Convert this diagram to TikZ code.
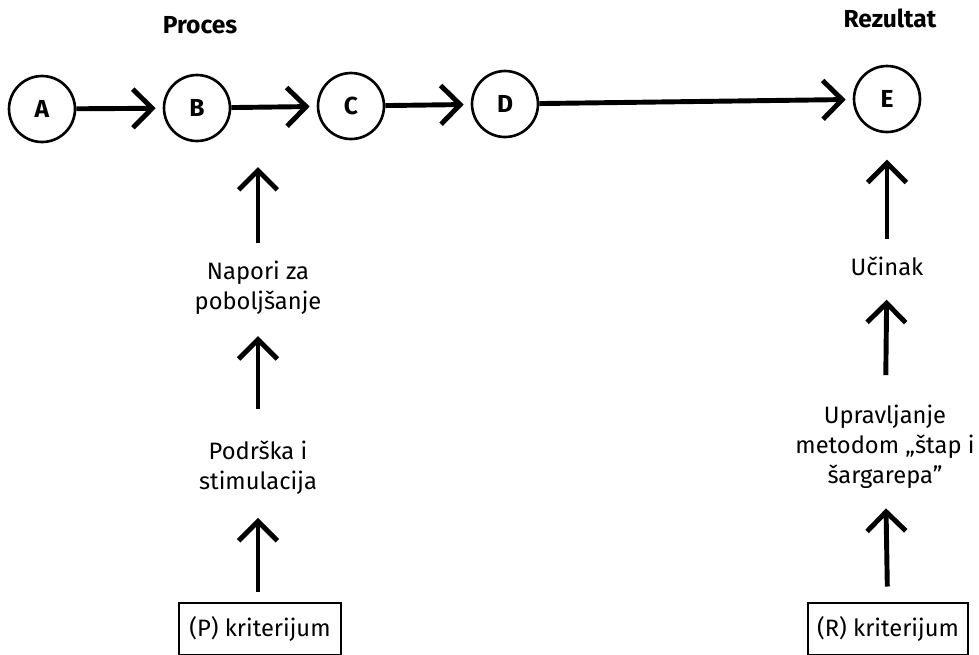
\documentclass[tikz,border=0pt]{standalone}
\usepackage{fontspec}
\setmainfont{Fira Sans}
\usetikzlibrary{arrows.meta}

\begin{document}
\begin{tikzpicture}[x=0.02cm,y=-0.02cm,
    stage/.style={draw,circle,line width=1.5pt,minimum size=1.32cm,inner sep=0pt,font=\fontsize{14}{17}\selectfont\bfseries},
    flow/.style={line width=2.8pt,-{Straight Barb[length=11pt,width=22pt]}},
    lbl/.style={align=center,inner sep=0pt,font=\fontsize{13.5}{17}\selectfont},
    crit/.style={draw,line width=0.8pt,minimum height=1.04cm,font=\fontsize{13.5}{17}\selectfont},
    head/.style={font=\fontsize{14}{17}\selectfont\bfseries}]
  \useasboundingbox (0,0) rectangle (979,654);
  \clip (0,0) rectangle (979,654);
  % top row
  \node[head] (proc) at (200,25) {Proces};
  \node[head] (rez) at (890,18) {Rezultat};
  \node[stage] (A) at (42,109) {A};
  \node[stage] (B) at (197,108) {B};
  \node[stage] (C) at (351,106) {C};
  \node[stage] (D) at (505,104) {D};
  \node[stage] (E) at (887,99) {E};
  \draw[flow,shorten >=4pt] (A) -- (B);
  \draw[flow,shorten >=4pt] (B) -- (C);
  \draw[flow,shorten >=4pt] (C) -- (D);
  \draw[flow,shorten >=4pt] (D) -- (E);
  % process column
  \coordinate (bin) at (258,167);
  \node[lbl] (napori) at (258,288) {Napori za\\poboljšanje};
  \node[lbl] (pod) at (258,468) {Podrška i\\stimulacija};
  \node[crit,minimum width=3.24cm] (pk) at (260,629) {(P) kriterijum};
  \draw[flow,shorten <=10pt] (napori) -- (bin);
  \draw[flow,shorten <=18pt,shorten >=12pt] (pod) -- (napori);
  \draw[flow,shorten <=5.7pt,shorten >=13pt] (pk.north -| pod) -- (pod);
  % result column
  \node[lbl] (ucinak) at (887,266) {Učinak};
  \node[lbl] (upr) at (885,447) {Upravljanje\\metodom „štap i\\šargarepa”};
  \node[crit,minimum width=3.2cm] (rk) at (888,629) {(R) kriterijum};
  \draw[flow,shorten <=10pt,shorten >=15pt] (ucinak) -- (E);
  \draw[flow,shorten <=17pt,shorten >=13.6pt] (upr) -- (ucinak);
  \draw[flow,shorten <=9pt,shorten >=11pt] (rk) -- (upr);
\end{tikzpicture}
\end{document}
